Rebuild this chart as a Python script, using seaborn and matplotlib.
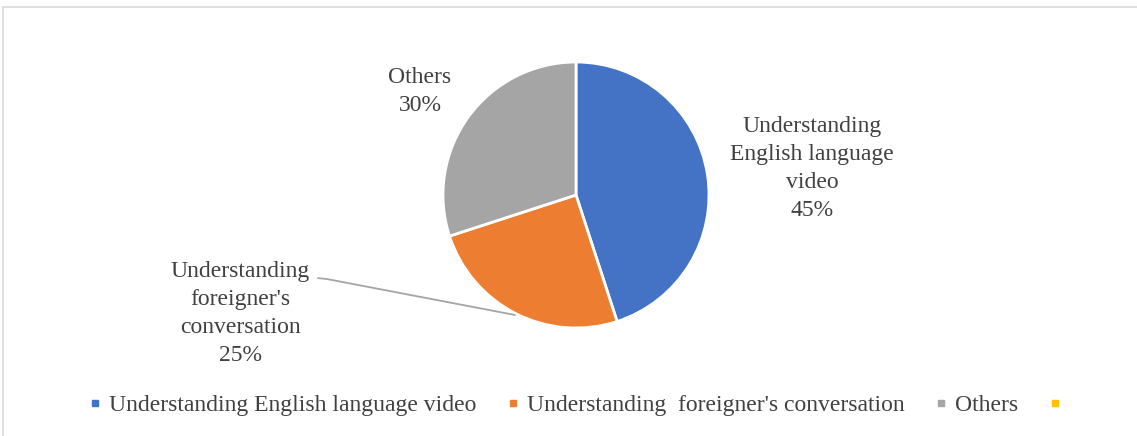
import matplotlib
matplotlib.use("Agg")
import matplotlib.pyplot as plt
from matplotlib.lines import Line2D
from matplotlib.patches import Rectangle
import seaborn as sns

# Survey shares
categories = ["Understanding English language video",
              "Understanding  foreigner's conversation",
              "Others", ""]
values = [45, 25, 30]
pie_labels = ["Understanding\nEnglish language\nvideo",
              "Understanding\nforeigner's\nconversation",
              "Others"]
colors = ["#4472C4", "#ED7D31", "#A5A5A5", "#FFC000"]

sns.set_theme(style="white")
plt.rcParams["font.family"] = ["Liberation Serif", "DejaVu Serif"]
text_color = "#404040"

W, H = 1137, 436
fig = plt.figure(figsize=(W / 100, H / 100), dpi=100)

# Chart area frame
fig.patches.append(Rectangle((3 / W, -0.05), 1.2, 1 - 7 / H + 0.05,
                             transform=fig.transFigure, fill=False,
                             edgecolor="#D9D9D9", linewidth=1.2))

cx, cy, r = 576, 195, 133
ax = fig.add_axes([(cx - r) / W, (H - cy - r) / H, 2 * r / W, 2 * r / H])
wedges, _ = ax.pie(values, colors=colors[:3], startangle=90, counterclock=False,
                   radius=1, wedgeprops=dict(edgecolor="white", linewidth=2))
ax.set_xlim(-1, 1)
ax.set_ylim(-1, 1)
ax.set_aspect("equal")
ax.axis("off")

fs = 17
label_pos = [(1.774, 0.2), (-2.526, -0.89), (-1.173, 0.78)]
for lab, v, (x, y) in zip(pie_labels, values, label_pos):
    ax.text(x, y, f"{lab}\n{v}%", ha="center", va="center", fontsize=fs,
            color=text_color, linespacing=1.45, clip_on=False)

# Leader line for the orange slice label
ax.plot([-1.94, -1.872, -0.459], [-0.625, -0.632, -0.902],
        color="#A5A5A5", linewidth=1.3, clip_on=False)

handles = [Line2D([], [], marker="s", linestyle="none", markersize=5,
                  markerfacecolor=c, markeredgecolor=c) for c in colors]
fig.legend(handles, categories, loc="center", bbox_to_anchor=(579 / W, 1 - 405 / H),
           ncol=4, frameon=False, fontsize=fs, labelcolor=text_color,
           handlelength=0.5, handletextpad=0.35, columnspacing=1.3,
           borderaxespad=0)

fig.savefig("out.png", dpi=100)
